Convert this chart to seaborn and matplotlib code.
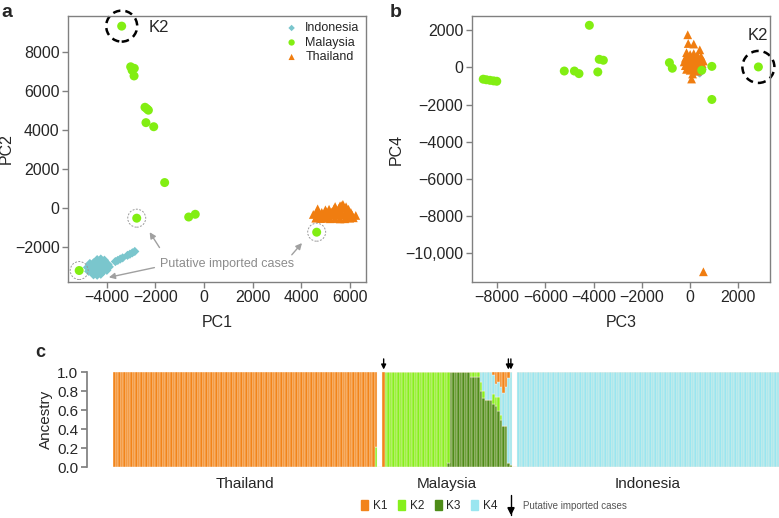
import matplotlib
matplotlib.use("Agg")
import matplotlib.pyplot as plt
import matplotlib.transforms as mtransforms
from matplotlib.patches import Circle, Patch
from matplotlib.ticker import FuncFormatter
import seaborn as sns

# ---- panel a : PC1 vs PC2 ----
a_mal_pc1 = [-3390, -3020, -2960, -2870, -2880, -2430, -2350, -2290, -2390, -2070,
             -1620, -630, -360, -2770, 4640, -5140]
a_mal_pc2 = [9350, 7260, 7080, 7180, 6790, 5180, 5100, 5030, 4390, 4180,
             1310, -460, -320, -520, -1240, -3210]

a_ind_pc1 = [-4400, -4250, -4100,
             -4700, -4550, -4400, -4250, -4100, -3950,
             -4800, -4650, -4500, -4350, -4200, -4050, -3900,
             -4750, -4600, -4450, -4300, -4150, -4000,
             -4550, -4400, -4250,
             -3650, -3550, -3450, -3350, -3150, -3050, -2950, -2850]
a_ind_pc2 = [-2650, -2620, -2680,
             -2850, -2820, -2800, -2830, -2850, -2900,
             -3050, -3030, -3050, -3060, -3040, -3050, -3020,
             -3250, -3260, -3250, -3240, -3250, -3200,
             -3430, -3450, -3400,
             -2750, -2690, -2620, -2560, -2430, -2370, -2300, -2230]

a_tha_pc1 = [4600, 4800, 5000, 5200, 5400, 5600, 5800, 6000, 6150,
             4500, 4700, 4900, 5100, 5300, 5500, 5700, 5900, 6100, 6250,
             4650, 4850, 5050, 5250, 5450, 5650, 5850, 6050,
             4680, 5000, 5150, 5350, 5550, 5750, 5950,
             5400, 5600, 5720, 5850, 5650]
a_tha_pc2 = [-520, -540, -530, -550, -540, -560, -550, -520, -500,
             -330, -360, -350, -370, -340, -360, -350, -340, -360, -380,
             -200, -220, -190, -210, -200, -180, -190, -230,
             -40, -90, -60, -50, -20, 0, -60,
             80, 110, 190, 70, 130]

# ---- panel b : PC3 vs PC4 ----
b_mal_pc3 = [-8580, -8450, -8300, -8150, -8020, -4180, -5220, -4800, -4610,
             -3770, -3600, -3830, -860, -740, 900, 900, 480, 2830]
b_mal_pc4 = [-630, -660, -690, -720, -740, 2270, -190, -190, -330,
             440, 390, -240, 260, -40, 60, -1720, -150, 30]

b_ind_pc3 = [250, 350, 450, 300, 400, 500, 200]
b_ind_pc4 = [-150, -250, -200, -50, -300, -100, -250]

b_tha_pc3 = [-100, -80, 150, 400, -150, 0, 150, 300, 450, -200, -50, 100, 250,
             400, 550, -250, -100, 50, 200, 350, 500, -200, -50, 100, 250, 400,
             -150, 0, 150, 300, 100, 60, 550]
b_tha_pc4 = [1760, 1290, 1260, 950, 800, 700, 750, 650, 600, 500, 450, 500, 450,
             400, 350, 300, 250, 300, 250, 250, 200, 100, 50, 100, 50, 80,
             -100, -150, -100, -200, -350, -620, -10990]

# ---- panel c : ancestry proportions (K1..K4) per sample ----
thai_k1 = [1.0] * 105 + [0.79]
thai_k2 = [0.0] * 105 + [0.21]
thai_k3 = [0.0] * 106
thai_k4 = [0.0] * 106

mal_k1 = [1.0] + [0.0] * 43 + [0.03, 0.12, 0.10, 0.15, 0.22, 0.15, 0.06, 0.0]
mal_k2 = ([0.0] + [1.0] * 25 + [0.95] + [0.0] * 8 + [0.05] * 4 +
          [0.10, 0.07, 0.0, 0.0, 0.0, 0.10, 0.10, 0.15, 0.05, 0.0, 0.0, 0.0, 0.0])
mal_k3 = ([0.0] * 26 + [0.05] + [1.0] * 8 + [0.95] * 4 +
          [0.80, 0.73, 0.71, 0.71, 0.71, 0.67, 0.64, 0.59, 0.50, 0.43, 0.43, 0.04, 0.02])
mal_k4 = ([0.0] * 39 +
          [0.10, 0.20, 0.29, 0.29, 0.29, 0.20, 0.14, 0.16, 0.30, 0.35, 0.42, 0.90, 0.98])

indo_k1 = [0.0] * 105
indo_k2 = [0.0] * 105
indo_k3 = [0.0] * 105
indo_k4 = [1.0] * 105

groups = ["Thailand", "Malaysia", "Indonesia"]
imported_bars = [0, 50, 51]  # Malaysia sample indices marked with arrows

c_orange = "#F07D10"
c_green = "#82EE12"
c_blue = "#7AC6CD"
k_colors = {"K1": "#F2841A", "K2": "#86F01C", "K3": "#4E8C18", "K4": "#9AE6F0"}

sns.set_theme(style="white")
plt.rcParams["font.family"] = ["Liberation Sans", "DejaVu Sans"]
plt.rcParams["axes.unicode_minus"] = True

fig = plt.figure(figsize=(7.79, 5.18), dpi=100)
ax_a = fig.add_axes([0.0873, 0.4556, 0.3825, 0.5135])
ax_b = fig.add_axes([0.6055, 0.4556, 0.3829, 0.5135])
ax_c = fig.add_axes([0.1451, 0.0979, 0.8549, 0.1834])

grey = "#808080"


def style_box(ax):
    for sp in ax.spines.values():
        sp.set_color(grey)
        sp.set_linewidth(1.0)
    ax.tick_params(direction="out", length=4, width=1, color=grey,
                   labelsize=11.5, pad=2, bottom=True, left=True)


def ring(ax, x, y, r, **kw):
    tr = fig.dpi_scale_trans + mtransforms.ScaledTranslation(x, y, ax.transData)
    ax.add_patch(Circle((0, 0), r, transform=tr, fill=False, clip_on=False, **kw))


def fmt(v, pos):
    s = f"{abs(v):,.0f}" if abs(v) >= 10000 else f"{abs(v):.0f}"
    return ("\u2212" + s) if v < 0 else s


# panel a
sns.scatterplot(x=a_ind_pc1, y=a_ind_pc2, ax=ax_a, marker="D", s=22, color=c_blue,
                edgecolor="none", label="Indonesia")
sns.scatterplot(x=a_mal_pc1, y=a_mal_pc2, ax=ax_a, marker="o", s=42, color=c_green,
                edgecolor="none", label="Malaysia")
sns.scatterplot(x=a_tha_pc1, y=a_tha_pc2, ax=ax_a, marker="^", s=40, color=c_orange,
                edgecolor="none", label="Thailand")
ax_a.set_xlim(-5600, 6670)
ax_a.set_ylim(-3800, 9870)
ax_a.set_xticks(range(-4000, 6001, 2000))
ax_a.set_yticks(range(-2000, 8001, 2000))
ax_a.xaxis.set_major_formatter(FuncFormatter(fmt))
ax_a.yaxis.set_major_formatter(FuncFormatter(fmt))
ax_a.set_xlabel("PC1", fontsize=11.5, labelpad=7)
ax_a.set_ylabel("PC2", fontsize=11.5, labelpad=1)
style_box(ax_a)
ax_a.legend(loc="upper right", frameon=False, fontsize=9, handletextpad=0.1,
            labelspacing=0.2, borderaxespad=0.1, markerscale=0.7)

ring(ax_a, a_mal_pc1[0], a_mal_pc2[0], 0.155, ls=(0, (3, 2)), lw=1.8, color="black")
ax_a.text(-2300, 9300, "K2", fontsize=12, va="center", ha="left")
for i in [13, 14, 15]:
    ring(ax_a, a_mal_pc1[i], a_mal_pc2[i], 0.09, ls=(0, (2, 1.5)), lw=0.7, color="#9a9a9a")
ax_a.text(950, -2870, "Putative imported cases", fontsize=9, color="#8c8c8c",
          ha="center", va="center")
arr = dict(arrowstyle="-|>", color="#a0a0a0", lw=1.0, mutation_scale=9)
ax_a.annotate("", xy=(-2300, -1120), xytext=(-1770, -2150), arrowprops=arr)
ax_a.annotate("", xy=(-4030, -3590), xytext=(-1930, -3030), arrowprops=arr)
ax_a.annotate("", xy=(4110, -1690), xytext=(3540, -2510), arrowprops=arr)

# panel b
sns.scatterplot(x=b_ind_pc3, y=b_ind_pc4, ax=ax_b, marker="D", s=22, color=c_blue,
                edgecolor="none", legend=False)
sns.scatterplot(x=b_tha_pc3, y=b_tha_pc4, ax=ax_b, marker="^", s=40, color=c_orange,
                edgecolor="none", legend=False)
sns.scatterplot(x=b_mal_pc3, y=b_mal_pc4, ax=ax_b, marker="o", s=42, color=c_green,
                edgecolor="none", legend=False)
ax_b.set_xlim(-9060, 3310)
ax_b.set_ylim(-11540, 2770)
ax_b.set_xticks(range(-8000, 2001, 2000))
ax_b.set_yticks(range(-10000, 2001, 2000))
ax_b.xaxis.set_major_formatter(FuncFormatter(fmt))
ax_b.yaxis.set_major_formatter(FuncFormatter(fmt))
ax_b.set_xlabel("PC3", fontsize=11.5, labelpad=7)
ax_b.set_ylabel("PC4", fontsize=11.5, labelpad=1)
style_box(ax_b)
ring(ax_b, b_mal_pc3[-1], b_mal_pc4[-1], 0.16, ls=(0, (3, 2)), lw=1.8, color="black")
ax_b.text(2820, 1730, "K2", fontsize=12, va="center", ha="center")

# panel c: stacked ancestry bars
k1 = thai_k1 + [0, 0] + mal_k1 + [0, 0] + indo_k1
k2 = thai_k2 + [0, 0] + mal_k2 + [0, 0] + indo_k2
k3 = thai_k3 + [0, 0] + mal_k3 + [0, 0] + indo_k3
k4 = thai_k4 + [0, 0] + mal_k4 + [0, 0] + indo_k4
xs = list(range(len(k1)))
bottom = [0.0] * len(xs)
for name, vals in [("K3", k3), ("K2", k2), ("K4", k4), ("K1", k1)]:
    ax_c.bar(xs, vals, bottom=bottom, width=1.0, color=k_colors[name],
             edgecolor="#fff3e6", linewidth=0.3)
    bottom = [b + v for b, v in zip(bottom, vals)]

ax_c.set_xlim(-0.5, len(xs) - 0.5)
ax_c.set_ylim(0, 1)
for sp in ["top", "right", "bottom"]:
    ax_c.spines[sp].set_visible(False)
ax_c.spines["left"].set_position(("outward", 19))
ax_c.spines["left"].set_color(grey)
ax_c.set_yticks([0, 0.2, 0.4, 0.6, 0.8, 1.0])
ax_c.set_yticklabels([f"{t:.1f}" for t in [0, 0.2, 0.4, 0.6, 0.8, 1.0]])
ax_c.set_xticks([])
ax_c.tick_params(axis="y", direction="out", length=4, color=grey, labelsize=11,
                 pad=2, left=True)
ax_c.set_ylabel("Ancestry", fontsize=11, labelpad=3)

n_t, n_m = len(thai_k1), len(mal_k1)
starts = [0, n_t + 2, n_t + n_m + 4]
sizes = [n_t, n_m, len(indo_k1)]
for g, s0, n in zip(groups, starts, sizes):
    ax_c.text(s0 + (n - 1) / 2, -0.18, g, fontsize=11, ha="center", va="center")
for i in imported_bars:
    ax_c.annotate("", xy=(starts[1] + i, 1.0), xytext=(starts[1] + i, 1.17),
                  arrowprops=dict(arrowstyle="-|>", color="black", lw=1.0,
                                  mutation_scale=7), annotation_clip=False)

handles = [Patch(color=k_colors[k], label=k) for k in ["K1", "K2", "K3", "K4"]]
fig.legend(handles=handles, loc="center", bbox_to_anchor=(0.551, 0.023), ncol=4,
           frameon=False, fontsize=8.5, handlelength=0.6, handleheight=0.9,
           handletextpad=0.4, columnspacing=0.9)
fig.add_artist(plt.Line2D([0.656, 0.656], [0.045, 0.005], color="black", lw=1))
fig.patches.append(matplotlib.patches.FancyArrow(
    0.656, 0.02, 0, -0.012, width=0.0, head_width=0.008, head_length=0.012,
    length_includes_head=True, color="black", transform=fig.transFigure))
fig.text(0.671, 0.023, "Putative imported cases", fontsize=7, color="#555555",
         va="center")

fig.text(0.002, 0.992, "a", fontsize=14, weight="bold", va="top")
fig.text(0.500, 0.992, "b", fontsize=14, weight="bold", va="top")
fig.text(0.045, 0.336, "c", fontsize=13, weight="bold", va="top")

fig.savefig("out.png", dpi=100)
